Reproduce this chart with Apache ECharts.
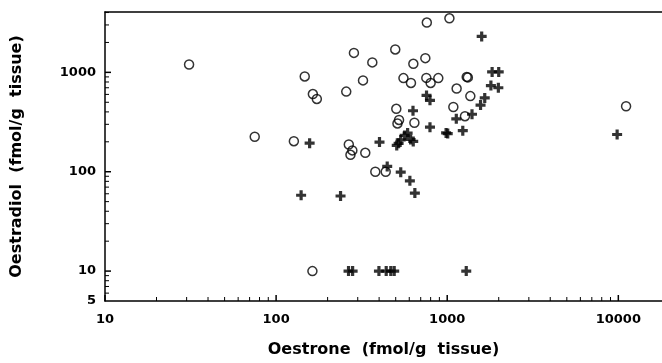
<!DOCTYPE html>
<html>
<head>
<meta charset="utf-8">
<script src="https://cdn.jsdelivr.net/npm/echarts@6.0.0/dist/echarts.min.js"></script>
<style>
  html, body { margin: 0; padding: 0; background: #fff; }
  #chart { width: 662px; height: 363px; }
</style>
</head>
<body>
<div id="chart"></div>
<script>
// open circles
const circleX = [31, 75, 127, 147, 164, 173, 285, 365, 322, 257, 497, 634, 745, 760, 1030, 555, 614, 755, 800, 887,
  1300, 1320, 1135, 1365, 504, 1086, 1270, 523, 512, 643, 266, 279, 272, 332, 380, 437, 11100, 163];
const circleY = [1200, 225, 203, 910, 605, 540, 1570, 1260, 830, 640, 1700, 1220, 1390, 3170, 3500, 875, 783, 880, 783, 875,
  900, 890, 687, 577, 430, 448, 362, 332, 306, 311, 188, 164, 148, 155, 100, 100, 456, 10];

// crosses
const crossX = [157, 1590, 1830, 2000, 1800, 1990, 757, 793, 1657, 1566, 631, 1396, 1130, 793, 1007, 985, 1233, 402,
  507, 535, 564, 587, 633, 520, 611, 446, 535, 605, 647, 140, 238, 9840, 265, 280, 399, 440, 468, 490, 1292];
const crossY = [194, 2300, 1010, 1010, 736, 700, 586, 523, 553, 469, 411, 379, 341, 281, 242, 246, 259, 199,
  184, 209, 232, 245, 202, 193, 211, 113, 99, 81, 61, 58, 57, 237, 10, 10, 10, 10, 10, 10, 10];

const xLabels = [10, 100, 1000, 10000];
const xMinorTicks = [20, 30, 40, 50, 60, 70, 80, 90, 200, 300, 400, 500, 600, 700, 800, 900,
  2000, 3000, 4000, 5000, 6000, 7000, 8000, 9000];
const yLabels = [5, 10, 100, 1000];
const yMajorTicks = [10, 100, 1000];
const yMinorTicks = [6, 7, 8, 9, 20, 30, 40, 50, 60, 70, 80, 90, 200, 300, 400, 500, 600, 700, 800, 900, 2000, 3000, 4000];

const xMin = 10, xMax = 18000, yMin = 5, yMax = 4050;

const font = () => ({ color: '#000', fontFamily: 'DejaVu Sans', fontWeight: 'bold' });
const line = () => ({ color: '#000', width: 1.5 });

const chart = echarts.init(document.getElementById('chart'));

const zip = (xs, ys) => xs.map((x, i) => [x, ys[i]]);

// inside ticks drawn through the axes' own scales
const tickSeries = (values, dir, len, width) => ({
  type: 'custom', silent: true, clip: false, z: 5,
  data: values.map(v => dir === 'x' ? [v, yMin] : [xMin, v]),
  renderItem: (params, api) => {
    const p = api.coord([api.value(0), api.value(1)]);
    const end = dir === 'x' ? [p[0], p[1] - len] : [p[0] + len, p[1]];
    return {
      type: 'line',
      shape: { x1: p[0], y1: p[1], x2: end[0], y2: end[1] },
      style: { stroke: '#000', lineWidth: width }
    };
  }
});

const option = {
  animation: false,
  grid: { left: 105, right: 0, top: 12, bottom: 62 },
  xAxis: [
    {
      type: 'log', min: xMin, max: xMax, position: 'bottom',
      axisLine: { show: true, lineStyle: line() },
      axisTick: { show: false },
      axisLabel: { customValues: xLabels, margin: 12, fontSize: 13, formatter: v => String(v), ...font() },
      splitLine: { show: false },
      name: 'Oestrone  (fmol/g  tissue)', nameLocation: 'middle', nameGap: 41,
      nameTextStyle: { fontSize: 16, ...font() }
    },
    {
      type: 'log', min: xMin, max: xMax, position: 'top',
      axisLine: { show: true, lineStyle: line() },
      axisTick: { show: false }, axisLabel: { show: false }, splitLine: { show: false }
    }
  ],
  yAxis: [
    {
      type: 'log', min: yMin, max: yMax, position: 'left',
      axisLine: { show: true, lineStyle: line() },
      axisTick: { show: false },
      axisLabel: { customValues: yLabels, margin: 9, fontSize: 13, formatter: v => String(v), ...font() },
      splitLine: { show: false },
      name: 'Oestradiol  (fmol/g  tissue)', nameLocation: 'middle', nameGap: 80, nameRotate: 90,
      nameTextStyle: { fontSize: 16, ...font() }
    }
  ],
  series: [
    tickSeries(xLabels, 'x', 6, 1.5),
    tickSeries(xMinorTicks, 'x', 4, 1),
    tickSeries(yMajorTicks, 'y', 6, 1.5),
    tickSeries(yMinorTicks, 'y', 4, 1),
    {
      type: 'scatter', name: 'circle', xAxisIndex: 0, yAxisIndex: 0,
      symbol: 'circle', symbolSize: 9,
      itemStyle: { color: 'rgba(0,0,0,0)', borderColor: '#000', borderWidth: 1.5 },
      data: zip(circleX, circleY)
    },
    {
      type: 'scatter', name: 'cross', xAxisIndex: 0, yAxisIndex: 0,
      symbol: 'path://M3.4,0H6.6V3.4H10V6.6H6.6V10H3.4V6.6H0V3.4H3.4Z', symbolSize: 10,
      itemStyle: { color: '#000' },
      data: zip(crossX, crossY)
    }
  ]
};

chart.setOption(option);
</script>
</body>
</html>
